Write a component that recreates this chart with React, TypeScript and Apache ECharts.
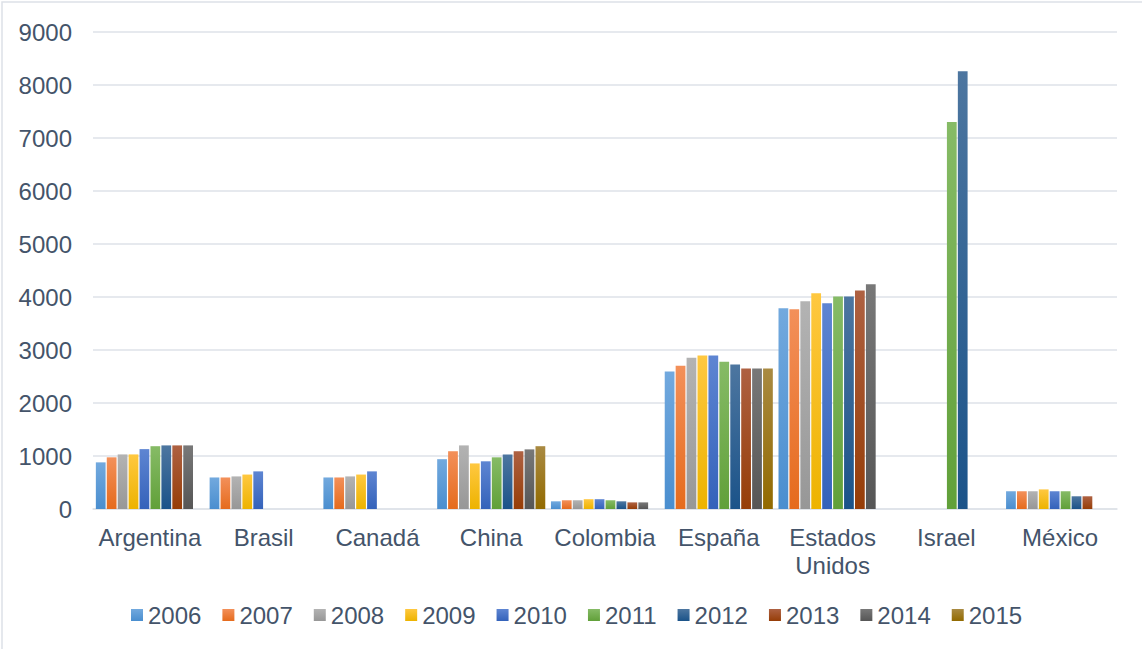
import React, { useEffect, useRef } from "react";
import * as echarts from "echarts";

const countries = ["Argentina", "Brasil", "Canadá", "China", "Colombia", "España", "Estados\nUnidos", "Israel", "México"];
const years = ["2006", "2007", "2008", "2009", "2010", "2011", "2012", "2013", "2014", "2015"];

const v2006 = [880, 595, 595, 940, 145, 2595, 3790, null, 335];
const v2007 = [975, 595, 595, 1090, 165, 2705, 3770, null, 335];
const v2008 = [1030, 615, 615, 1200, 165, 2855, 3920, null, 335];
const v2009 = [1030, 650, 650, 860, 185, 2895, 4070, null, 370];
const v2010 = [1130, 710, 710, 900, 185, 2895, 3880, null, 335];
const v2011 = [1185, null, null, 975, 165, 2780, 4010, 7300, 335];
const v2012 = [1200, null, null, 1030, 145, 2725, 4010, 8260, 240];
const v2013 = [1200, null, null, 1090, 125, 2650, 4125, null, 240];
const v2014 = [1200, null, null, 1125, 125, 2650, 4240, null, null];
const v2015 = [null, null, null, 1185, null, 2650, null, null, null];

const seriesValues = [v2006, v2007, v2008, v2009, v2010, v2011, v2012, v2013, v2014, v2015];

const yTicks = { min: 0, max: 9000, interval: 1000 };

// top / bottom shades of each year's bar gradient
const shades: [string, string][] = [
  ["#72a9de", "#4a8ecf"],
  ["#f3905a", "#e56b1d"],
  ["#b3b3b3", "#979797"],
  ["#ffc840", "#edb300"],
  ["#5e85d2", "#3462ba"],
  ["#86bb66", "#61a039"],
  ["#4d76a0", "#1b5389"],
  ["#ae6142", "#963d07"],
  ["#787878", "#565656"],
  ["#a98a42", "#926a00"],
];

const textColor = "#44546a";
const gridColor = "#dee2e8";
const font = "'Liberation Sans', Arial, sans-serif";

export default function App() {
  const ref = useRef<HTMLDivElement>(null);

  useEffect(() => {
    if (!ref.current) return;
    const chart = echarts.init(ref.current, undefined, { renderer: "svg" });

    const series = years.map((year, i) => ({
      name: year,
      type: "bar",
      data: seriesValues[i],
      barGap: "12%",
      barCategoryGap: "5%",
      itemStyle: {
        color: new echarts.graphic.LinearGradient(0, 0, 0, 1, [
          { offset: 0, color: shades[i][0] },
          { offset: 1, color: shades[i][1] },
        ]),
      },
    }));

    chart.setOption({
      animation: false,
      backgroundColor: "#ffffff",
      textStyle: { fontFamily: font },
      graphic: [
        {
          type: "rect",
          shape: { x: 2, y: 2, width: 1200, height: 700 },
          style: { fill: "none", stroke: "#dde1e7", lineWidth: 1.5 },
          silent: true,
        },
      ],
      grid: { left: 93, right: 25, top: 32, bottom: 140, containLabel: false },
      legend: {
        data: years,
        left: 126,
        top: 598,
        itemWidth: 12,
        itemHeight: 12,
        itemGap: 21,
        icon: "rect",
        textStyle: { color: textColor, fontSize: 24, fontFamily: font },
      },
      xAxis: {
        type: "category",
        data: countries,
        axisLine: { lineStyle: { color: gridColor, width: 1.5 } },
        axisTick: { show: false },
        axisLabel: {
          color: textColor,
          fontSize: 24,
          fontFamily: font,
          margin: 14,
          lineHeight: 28,
          interval: 0,
        },
      },
      yAxis: {
        type: "value",
        min: yTicks.min,
        max: yTicks.max,
        interval: yTicks.interval,
        axisLine: { show: false },
        axisTick: { show: false },
        splitLine: { lineStyle: { color: gridColor, width: 1.5 } },
        axisLabel: {
          color: textColor,
          fontSize: 24,
          fontFamily: font,
          margin: 21,
          formatter: (v: number) => String(v),
        },
      },
      series,
    });

    return () => chart.dispose();
  }, []);

  return (
    <div
      ref={ref}
      style={{ position: "absolute", left: 0, top: 0, width: 1142, height: 649 }}
    />
  );
}
